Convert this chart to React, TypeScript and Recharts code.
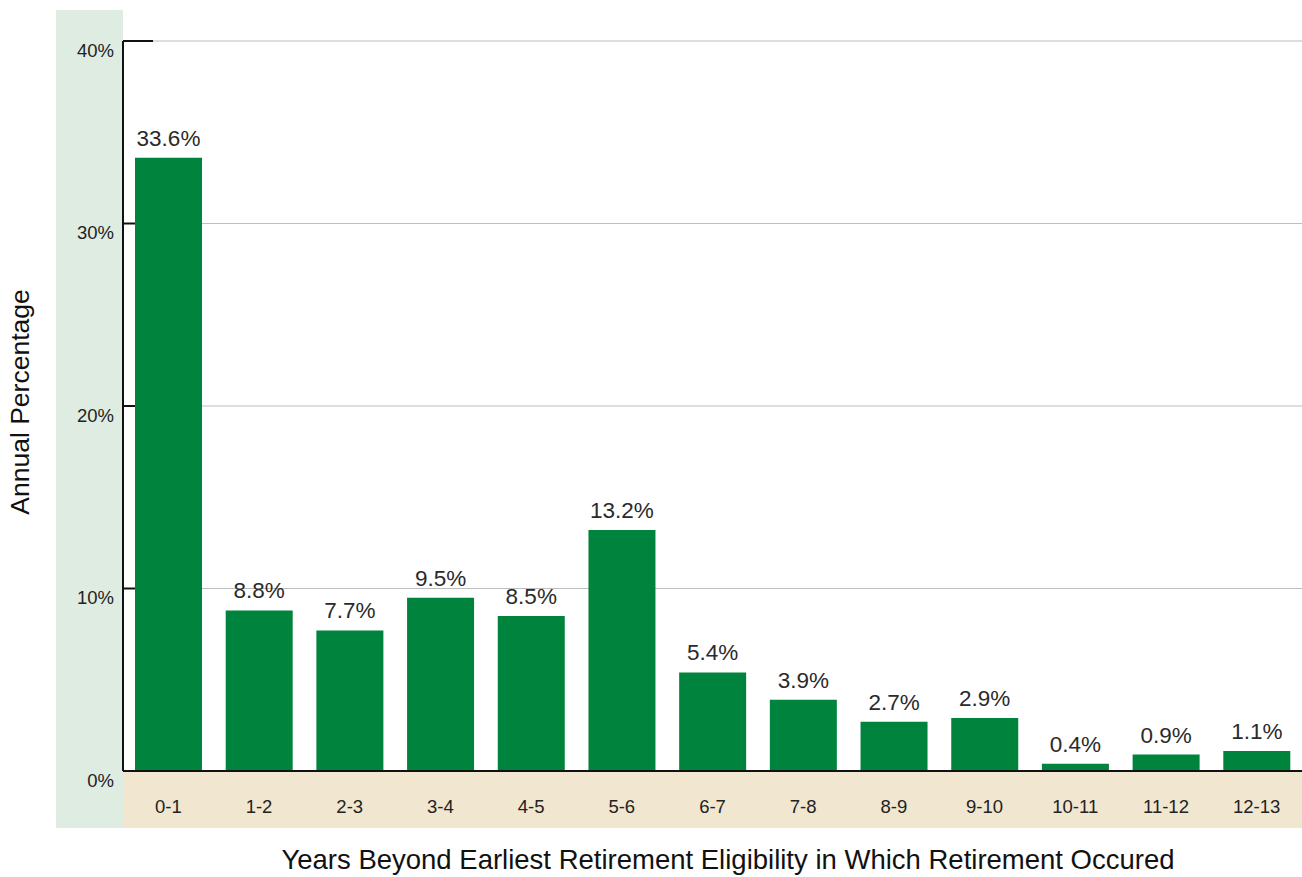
import React from "react";
import { BarChart, Bar, XAxis, YAxis, CartesianGrid, LabelList, Label } from "recharts";

const categories = ["0-1", "1-2", "2-3", "3-4", "4-5", "5-6", "6-7", "7-8", "8-9", "9-10", "10-11", "11-12", "12-13"];
const values = [33.6, 8.8, 7.7, 9.5, 8.5, 13.2, 5.4, 3.9, 2.7, 2.9, 0.4, 0.9, 1.1];
const yTicks = [0, 10, 20, 30, 40];
const xTitle = "Years Beyond Earliest Retirement Eligibility in Which Retirement Occured";
const yTitle = "Annual Percentage";

const data = categories.map((c, i) => ({ cat: c, value: values[i] }));

const FONT = "'Liberation Sans', Arial, Helvetica, sans-serif";

const YTick = (props: any) => {
  const { x, y, payload } = props;
  return (
    <text x={x - 1} y={y + 11} textAnchor="end" dominantBaseline="middle" fontFamily={FONT} fontSize={18.5} fill="#222">
      {payload.value}%
    </text>
  );
};

const XTick = (props: any) => {
  const { x, y, payload } = props;
  return (
    <text x={x} y={y + 29} textAnchor="middle" dominantBaseline="middle" fontFamily={FONT} fontSize={18.5} fill="#222">
      {payload.value}
    </text>
  );
};

const GridLine = (props: any) => {
  const { x1, x2, y1, y2 } = props;
  return (
    <g>
      <line x1={x1} x2={x2} y1={y1} y2={y2} stroke="#bdbdbd" strokeWidth={1.2} />
      <line x1={x1} x2={x1 + 30} y1={y1} y2={y2} stroke="#111" strokeWidth={2} />
    </g>
  );
};

export default function App() {
  return (
    <div style={{ position: "absolute", left: 0, top: 0, width: 1302, height: 877, background: "#fff", overflow: "hidden" }}>
      <div style={{ position: "absolute", left: 56, top: 10, width: 67, height: 818, background: "#DFECE2" }} />
      <div style={{ position: "absolute", left: 123, top: 771, width: 1179, height: 57, background: "#F1E6CF" }} />
      <div style={{ position: "absolute", left: 0, top: 0 }}>
        <BarChart
          width={1302}
          height={877}
          data={data}
          margin={{ top: 41, right: 0, left: 56, bottom: 49 }}
          style={{ fontFamily: FONT }}
        >
          <CartesianGrid vertical={false} horizontal={GridLine as any} />
          <XAxis
            dataKey="cat"
            height={57}
            tickLine={false}
            axisLine={{ stroke: "#111", strokeWidth: 2 }}
            tick={<XTick />}
            interval={0}
          >
            <Label
              content={() => (
                <text x={728} y={862} textAnchor="middle" dominantBaseline="middle" fontFamily={FONT} fontSize={27.5} fill="#111">
                  {xTitle}
                </text>
              )}
            />
          </XAxis>
          <YAxis
            width={67}
            domain={[0, 40]}
            ticks={yTicks}
            tickLine={false}
            axisLine={{ stroke: "#111", strokeWidth: 2 }}
            tick={<YTick />}
            interval={0}
          >
            <Label
              content={() => (
                <text
                  x={22}
                  y={402}
                  textAnchor="middle"
                  dominantBaseline="middle"
                  fontFamily={FONT}
                  fontSize={26.5}
                  fill="#111"
                  transform="rotate(-90 22 402)"
                >
                  {yTitle}
                </text>
              )}
            />
          </YAxis>
          <Bar dataKey="value" fill="#00843D" barSize={67} isAnimationActive={false}>
            <LabelList
              dataKey="value"
              position="top"
              offset={12}
              formatter={(v: any) => `${Number(v).toFixed(1)}%`}
              style={{ fontFamily: FONT, fontSize: 22.5, fill: "#2a2a2a" }}
            />
          </Bar>
        </BarChart>
      </div>
    </div>
  );
}
